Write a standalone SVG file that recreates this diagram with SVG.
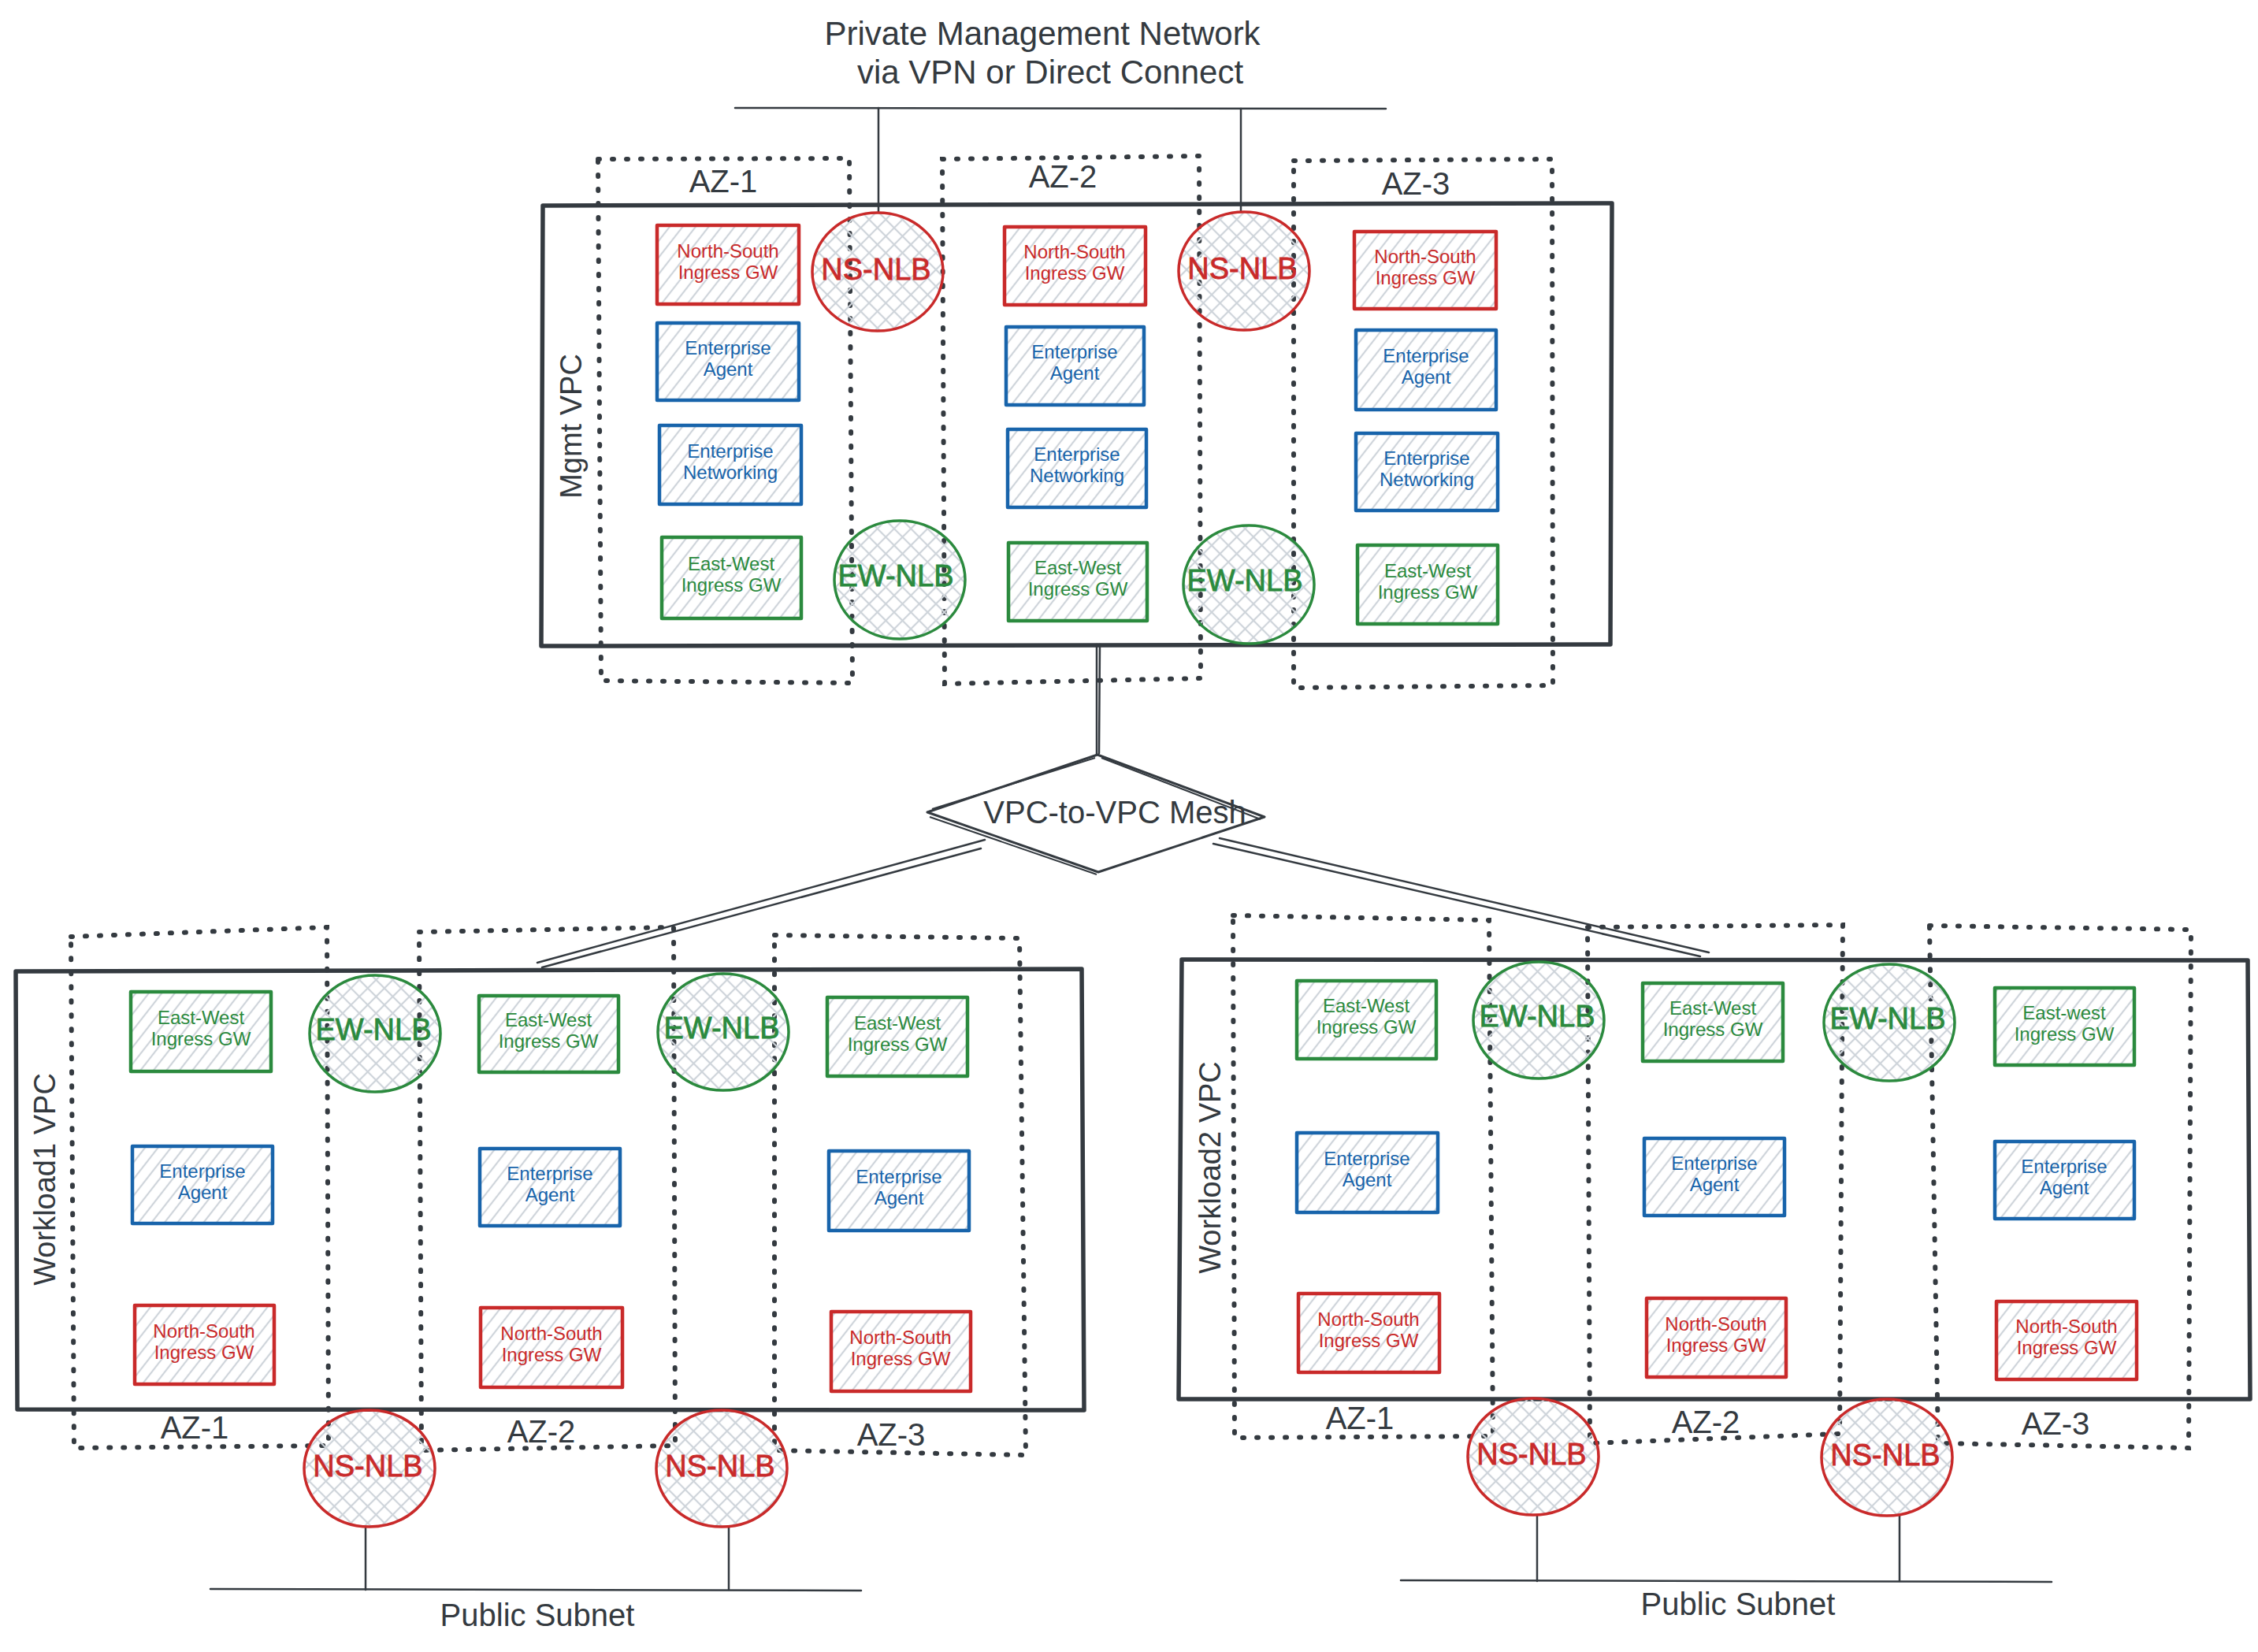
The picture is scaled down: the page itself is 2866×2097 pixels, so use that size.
<svg xmlns="http://www.w3.org/2000/svg" width="2866" height="2097" viewBox="0 0 2866 2097">
<defs>
<pattern id="hach" width="13" height="13" patternUnits="userSpaceOnUse" patternTransform="rotate(38)">
<line x1="2" y1="0" x2="2" y2="13" stroke="#ced4da" stroke-width="2.2"/>
</pattern>
<pattern id="xhach" width="15" height="15" patternUnits="userSpaceOnUse" patternTransform="rotate(45)">
<line x1="2" y1="0" x2="2" y2="15" stroke="#ced4da" stroke-width="2.2"/>
<line x1="0" y1="2" x2="15" y2="2" stroke="#ced4da" stroke-width="2.2"/>
</pattern>
</defs>
<style>
text{font-family:"Liberation Sans",Arial,sans-serif;}
.box{fill:url(#hach);stroke-width:4.5;stroke-linejoin:round;}
.nlb{fill:url(#xhach);stroke-width:3.5;}
.red{stroke:#c92a2a;}
.blue{stroke:#1864ab;}
.green{stroke:#2b8a3e;}
.fr{fill:#c92a2a;}
.fb{fill:#1864ab;}
.fg{fill:#2b8a3e;}
.bt{font-size:24px;text-anchor:middle;}
.nt{font-size:38px;text-anchor:middle;stroke-width:0.8;}
.fr.nt{stroke:#c92a2a;}
.fg.nt{stroke:#2b8a3e;}
.lbl{font-size:40px;text-anchor:middle;fill:#343a40;}
.vpc{fill:none;stroke:#343a40;stroke-width:5.5;stroke-linejoin:round;}
.az{fill:none;stroke:#343a40;stroke-width:6;stroke-dasharray:2 16;stroke-linecap:round;}
.ln{fill:none;stroke:#343a40;stroke-width:2.5;stroke-linecap:round;}
.dia{fill:none;stroke:#343a40;stroke-width:3;stroke-linejoin:round;}
</style>
<rect width="2866" height="2097" fill="#ffffff"/>

<!-- Title -->
<g id="title">
<text class="lbl" x="1323" y="57" style="font-size:42px">Private Management Network</text>
<text class="lbl" x="1333" y="106" style="font-size:42px">via VPN or Direct Connect</text>
</g>

<!-- Containers -->
<g id="mgmt-vpc">
<path class="vpc" d="M689 261 L2046 258 L2044 818 L687 820 Z"/>
<text class="lbl" x="738" y="541" transform="rotate(-90 738 541)" style="font-size:38px">Mgmt VPC</text>
</g>
<g id="mgmt-az1"><path class="az" d="M759 202 L1078 201 L1082 867 L763 864 Z"/><text class="lbl" x="918" y="244">AZ-1</text></g>
<g id="mgmt-az2"><path class="az" d="M1196 202 L1522 198 L1524 861 L1199 868 Z"/><text class="lbl" x="1349" y="238">AZ-2</text></g>
<g id="mgmt-az3"><path class="az" d="M1642 204 L1970 202 L1971 870 L1642 873 Z"/><text class="lbl" x="1797" y="247">AZ-3</text></g>

<g id="w1-vpc">
<path class="vpc" d="M20 1233 L1373 1230 L1376 1790 L22 1789 Z"/>
<text class="lbl" x="70" y="1497" transform="rotate(-90 70 1497)" style="font-size:38px">Workload1 VPC</text>
</g>
<g id="w1-az1"><path class="az" d="M90 1189 L415 1177 L417 1835 L94 1838 Z"/><text class="lbl" x="247" y="1826">AZ-1</text></g>
<g id="w1-az2"><path class="az" d="M532 1183 L855 1177 L857 1835 L535 1841 Z"/><text class="lbl" x="687" y="1831">AZ-2</text></g>
<g id="w1-az3"><path class="az" d="M983 1187 L1294 1191 L1302 1847 L983 1841 Z"/><text class="lbl" x="1131" y="1835">AZ-3</text></g>

<g id="w2-vpc">
<path class="vpc" d="M1500 1218 L2853 1219 L2856 1776 L1496 1776 Z"/>
<text class="lbl" x="1549" y="1482" transform="rotate(-90 1549 1482)" style="font-size:38px">Workload2 VPC</text>
</g>
<g id="w2-az1"><path class="az" d="M1565 1162 L1890 1168 L1895 1823 L1567 1825 Z"/><text class="lbl" x="1726" y="1814">AZ-1</text></g>
<g id="w2-az2"><path class="az" d="M2015 1177 L2339 1174 L2335 1820 L2018 1832 Z"/><text class="lbl" x="2165" y="1819">AZ-2</text></g>
<g id="w2-az3"><path class="az" d="M2449 1175 L2781 1180 L2778 1838 L2460 1832 Z"/><text class="lbl" x="2609" y="1821">AZ-3</text></g>

<!-- Connectors -->
<g id="connectors">
<line class="ln" x1="933" y1="137" x2="1759" y2="138"/>
<line class="ln" x1="1115" y1="137" x2="1115" y2="269"/>
<line class="ln" x1="1575" y1="138" x2="1575" y2="268"/>
<line class="ln" x1="1392" y1="818" x2="1392" y2="958"/>
<line class="ln" x1="1396" y1="818" x2="1395" y2="956"/>
<line class="ln" x1="1250" y1="1066" x2="682" y2="1222"/>
<line class="ln" x1="1245" y1="1077" x2="688" y2="1228"/>
<line class="ln" x1="1548" y1="1064" x2="2169" y2="1209"/>
<line class="ln" x1="1540" y1="1071" x2="2158" y2="1214"/>
<line class="ln" x1="464" y1="1938" x2="464" y2="2018"/>
<line class="ln" x1="925" y1="1938" x2="925" y2="2018"/>
<line class="ln" x1="267" y1="2017" x2="1093" y2="2019"/>
<line class="ln" x1="1951" y1="1923" x2="1951" y2="2007"/>
<line class="ln" x1="2411" y1="1924" x2="2411" y2="2007"/>
<line class="ln" x1="1778" y1="2006" x2="2604" y2="2008"/>
</g>

<!-- Mesh diamond -->
<g id="mesh">
<path class="dia" d="M1393 958 L1605 1037 L1394 1107 L1177 1031 Z"/>
<path class="dia" style="stroke-width:2" d="M1390 962 L1183 1027 M1398 962 L1600 1040 M1180 1037 L1392 1110"/>
<text class="lbl" x="1415" y="1045">VPC-to-VPC Mesh</text>
</g>

<g id="public-subnet-1"><text class="lbl" x="682" y="2064">Public Subnet</text></g>
<g id="public-subnet-2"><text class="lbl" x="2206" y="2050">Public Subnet</text></g>

<!-- Mgmt nodes -->
<g id="m-ns1"><rect class="box red" x="834" y="286" width="180" height="100"/><text class="bt fr" x="924" y="327">North-South</text><text class="bt fr" x="924" y="354">Ingress GW</text></g>
<g id="m-ag1"><rect class="box blue" x="834" y="410" width="180" height="98"/><text class="bt fb" x="924" y="450">Enterprise</text><text class="bt fb" x="924" y="477">Agent</text></g>
<g id="m-net1"><rect class="box blue" x="837" y="540" width="180" height="100"/><text class="bt fb" x="927" y="581">Enterprise</text><text class="bt fb" x="927" y="608">Networking</text></g>
<g id="m-ew1"><rect class="box green" x="840" y="682" width="177" height="103"/><text class="bt fg" x="928" y="724">East-West</text><text class="bt fg" x="928" y="751">Ingress GW</text></g>
<g id="m-ns2"><rect class="box red" x="1275" y="288" width="179" height="99"/><text class="bt fr" x="1364" y="328">North-South</text><text class="bt fr" x="1364" y="355">Ingress GW</text></g>
<g id="m-ag2"><rect class="box blue" x="1277" y="415" width="175" height="99"/><text class="bt fb" x="1364" y="455">Enterprise</text><text class="bt fb" x="1364" y="482">Agent</text></g>
<g id="m-net2"><rect class="box blue" x="1279" y="545" width="176" height="99"/><text class="bt fb" x="1367" y="585">Enterprise</text><text class="bt fb" x="1367" y="612">Networking</text></g>
<g id="m-ew2"><rect class="box green" x="1280" y="689" width="176" height="99"/><text class="bt fg" x="1368" y="729">East-West</text><text class="bt fg" x="1368" y="756">Ingress GW</text></g>
<g id="m-ns3"><rect class="box red" x="1719" y="294" width="180" height="98"/><text class="bt fr" x="1809" y="334">North-South</text><text class="bt fr" x="1809" y="361">Ingress GW</text></g>
<g id="m-ag3"><rect class="box blue" x="1721" y="419" width="178" height="101"/><text class="bt fb" x="1810" y="460">Enterprise</text><text class="bt fb" x="1810" y="487">Agent</text></g>
<g id="m-net3"><rect class="box blue" x="1721" y="550" width="180" height="98"/><text class="bt fb" x="1811" y="590">Enterprise</text><text class="bt fb" x="1811" y="617">Networking</text></g>
<g id="m-ew3"><rect class="box green" x="1723" y="692" width="178" height="100"/><text class="bt fg" x="1812" y="733">East-West</text><text class="bt fg" x="1812" y="760">Ingress GW</text></g>

<g id="m-nsnlb1"><ellipse class="nlb red" cx="1114" cy="345" rx="83" ry="75"/><text class="nt fr" x="1112" y="355">NS-NLB</text></g>
<g id="m-nsnlb2"><ellipse class="nlb red" cx="1579" cy="344" rx="83" ry="75"/><text class="nt fr" x="1577" y="354">NS-NLB</text></g>
<g id="m-ewnlb1"><ellipse class="nlb green" cx="1142" cy="736" rx="83" ry="75"/><text class="nt fg" x="1137" y="744">EW-NLB</text></g>
<g id="m-ewnlb2"><ellipse class="nlb green" cx="1585" cy="742" rx="83" ry="75"/><text class="nt fg" x="1580" y="750">EW-NLB</text></g>

<!-- Workload1 nodes -->
<g id="w1-ew1"><rect class="box green" x="166" y="1259" width="178" height="101"/><text class="bt fg" x="255" y="1300">East-West</text><text class="bt fg" x="255" y="1327">Ingress GW</text></g>
<g id="w1-ew2"><rect class="box green" x="608" y="1264" width="177" height="97"/><text class="bt fg" x="696" y="1303">East-West</text><text class="bt fg" x="696" y="1330">Ingress GW</text></g>
<g id="w1-ew3"><rect class="box green" x="1050" y="1266" width="178" height="100"/><text class="bt fg" x="1139" y="1307">East-West</text><text class="bt fg" x="1139" y="1334">Ingress GW</text></g>
<g id="w1-ag1"><rect class="box blue" x="168" y="1455" width="178" height="98"/><text class="bt fb" x="257" y="1495">Enterprise</text><text class="bt fb" x="257" y="1522">Agent</text></g>
<g id="w1-ag2"><rect class="box blue" x="609" y="1458" width="178" height="98"/><text class="bt fb" x="698" y="1498">Enterprise</text><text class="bt fb" x="698" y="1525">Agent</text></g>
<g id="w1-ag3"><rect class="box blue" x="1052" y="1461" width="178" height="101"/><text class="bt fb" x="1141" y="1502">Enterprise</text><text class="bt fb" x="1141" y="1529">Agent</text></g>
<g id="w1-ns1"><rect class="box red" x="171" y="1657" width="177" height="100"/><text class="bt fr" x="259" y="1698">North-South</text><text class="bt fr" x="259" y="1725">Ingress GW</text></g>
<g id="w1-ns2"><rect class="box red" x="610" y="1660" width="180" height="101"/><text class="bt fr" x="700" y="1701">North-South</text><text class="bt fr" x="700" y="1728">Ingress GW</text></g>
<g id="w1-ns3"><rect class="box red" x="1055" y="1665" width="177" height="101"/><text class="bt fr" x="1143" y="1706">North-South</text><text class="bt fr" x="1143" y="1733">Ingress GW</text></g>

<g id="w1-ewnlb1"><ellipse class="nlb green" cx="476" cy="1312" rx="83" ry="74"/><text class="nt fg" x="474" y="1320">EW-NLB</text></g>
<g id="w1-ewnlb2"><ellipse class="nlb green" cx="918" cy="1310" rx="83" ry="74"/><text class="nt fg" x="916" y="1318">EW-NLB</text></g>
<g id="w1-nsnlb1"><ellipse class="nlb red" cx="469" cy="1864" rx="83" ry="74"/><text class="nt fr" x="467" y="1874">NS-NLB</text></g>
<g id="w1-nsnlb2"><ellipse class="nlb red" cx="916" cy="1864" rx="83" ry="74"/><text class="nt fr" x="914" y="1874">NS-NLB</text></g>

<!-- Workload2 nodes -->
<g id="w2-ew1"><rect class="box green" x="1646" y="1245" width="177" height="99"/><text class="bt fg" x="1734" y="1285">East-West</text><text class="bt fg" x="1734" y="1312">Ingress GW</text></g>
<g id="w2-ew2"><rect class="box green" x="2085" y="1248" width="178" height="99"/><text class="bt fg" x="2174" y="1288">East-West</text><text class="bt fg" x="2174" y="1315">Ingress GW</text></g>
<g id="w2-ew3"><rect class="box green" x="2532" y="1254" width="177" height="98"/><text class="bt fg" x="2620" y="1294">East-west</text><text class="bt fg" x="2620" y="1321">Ingress GW</text></g>
<g id="w2-ag1"><rect class="box blue" x="1646" y="1438" width="179" height="101"/><text class="bt fb" x="1735" y="1479">Enterprise</text><text class="bt fb" x="1735" y="1506">Agent</text></g>
<g id="w2-ag2"><rect class="box blue" x="2087" y="1445" width="178" height="98"/><text class="bt fb" x="2176" y="1485">Enterprise</text><text class="bt fb" x="2176" y="1512">Agent</text></g>
<g id="w2-ag3"><rect class="box blue" x="2532" y="1449" width="177" height="98"/><text class="bt fb" x="2620" y="1489">Enterprise</text><text class="bt fb" x="2620" y="1516">Agent</text></g>
<g id="w2-ns1"><rect class="box red" x="1648" y="1642" width="179" height="100"/><text class="bt fr" x="1737" y="1683">North-South</text><text class="bt fr" x="1737" y="1710">Ingress GW</text></g>
<g id="w2-ns2"><rect class="box red" x="2090" y="1648" width="177" height="100"/><text class="bt fr" x="2178" y="1689">North-South</text><text class="bt fr" x="2178" y="1716">Ingress GW</text></g>
<g id="w2-ns3"><rect class="box red" x="2534" y="1652" width="178" height="99"/><text class="bt fr" x="2623" y="1692">North-South</text><text class="bt fr" x="2623" y="1719">Ingress GW</text></g>

<g id="w2-ewnlb1"><ellipse class="nlb green" cx="1953" cy="1295" rx="83" ry="74"/><text class="nt fg" x="1951" y="1303">EW-NLB</text></g>
<g id="w2-ewnlb2"><ellipse class="nlb green" cx="2398" cy="1298" rx="83" ry="74"/><text class="nt fg" x="2396" y="1306">EW-NLB</text></g>
<g id="w2-nsnlb1"><ellipse class="nlb red" cx="1946" cy="1849" rx="83" ry="74"/><text class="nt fr" x="1944" y="1859">NS-NLB</text></g>
<g id="w2-nsnlb2"><ellipse class="nlb red" cx="2395" cy="1850" rx="83" ry="74"/><text class="nt fr" x="2393" y="1860">NS-NLB</text></g>
</svg>
